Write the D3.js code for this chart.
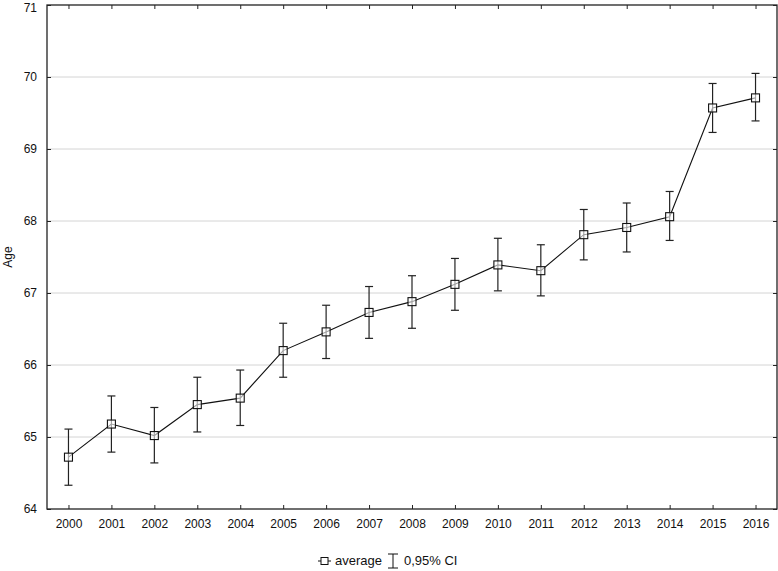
<!DOCTYPE html>
<html><head><meta charset="utf-8">
<script src="https://cdn.jsdelivr.net/npm/d3@7"></script>
<style>body{margin:0;background:#fff}svg{display:block;font-family:"Liberation Sans",Arial,sans-serif}</style>
</head><body><svg id="c" width="778" height="571"></svg>
<script>
const years = ["2000","2001","2002","2003","2004","2005","2006","2007","2008","2009","2010","2011","2012","2013","2014","2015","2016"];
const average = [64.72,65.18,65.02,65.45,65.54,66.20,66.46,66.73,66.88,67.12,67.39,67.31,67.81,67.91,68.06,69.57,69.71];
const ciLow  = [64.33,64.79,64.64,65.07,65.16,65.83,66.09,66.37,66.51,66.76,67.03,66.96,67.46,67.57,67.73,69.23,69.39];
const ciHigh = [65.11,65.57,65.41,65.83,65.93,66.58,66.83,67.09,67.24,67.48,67.76,67.67,68.16,68.25,68.41,69.91,70.05];
const yTicks = [64,65,66,67,68,69,70,71];

const svg = d3.select("#c");
const L=47, R=777, T=5, B=509;
const x = d3.scalePoint().domain(years).range([L,R]).padding(0.5);
const y = d3.scaleLinear().domain([64,71]).range([B,T]);
const FONT = "Liberation Sans, Arial, sans-serif";

svg.append("g").selectAll("line").data(yTicks.slice(1,-1)).join("line")
  .attr("x1",L).attr("x2",R).attr("y1",d=>y(d)).attr("y2",d=>y(d))
  .attr("stroke","#d4d4d4").attr("stroke-width",1);

const ax = (g)=>g.selectAll(".domain").remove();
svg.append("g").attr("transform",`translate(0,${B})`)
  .call(d3.axisBottom(x).tickSize(-4).tickPadding(10)).call(ax)
  .call(g=>g.selectAll("text").attr("font-size",12).attr("fill","#111").attr("font-family",FONT))
  .call(g=>g.selectAll("line").attr("stroke","#222"));
svg.append("g").attr("transform",`translate(0,${T})`)
  .call(d3.axisTop(x).tickSize(-4).tickFormat("")).call(ax)
  .call(g=>g.selectAll("line").attr("stroke","#222"));
svg.append("g").attr("transform",`translate(${L},0)`)
  .call(d3.axisLeft(y).tickValues(yTicks).tickFormat(d3.format("d")).tickSize(-4).tickPadding(10)).call(ax)
  .call(g=>g.selectAll("text").attr("font-size",12).attr("fill","#111").attr("font-family",FONT)
        .attr("dy",d=>d===71?"0.5em":"0.32em"))
  .call(g=>g.selectAll("line").attr("stroke","#222"));
svg.append("g").attr("transform",`translate(${R},0)`)
  .call(d3.axisRight(y).tickValues(yTicks).tickSize(-4).tickFormat("")).call(ax)
  .call(g=>g.selectAll("line").attr("stroke","#222"));

svg.append("rect").attr("x",L).attr("y",T).attr("width",R-L).attr("height",B-T)
  .attr("fill","none").attr("stroke","#222").attr("stroke-width",1.3);

svg.append("text").attr("transform",`translate(12,${(T+B)/2}) rotate(-90)`)
  .attr("text-anchor","middle").attr("font-size",12).attr("fill","#111").text("Age");

const eb = svg.append("g").attr("stroke","#222").attr("stroke-width",1.2);
years.forEach((yr,i)=>{
  const cx=x(yr);
  eb.append("line").attr("x1",cx).attr("x2",cx).attr("y1",y(ciLow[i])).attr("y2",y(ciHigh[i]));
  eb.append("line").attr("x1",cx-4).attr("x2",cx+4).attr("y1",y(ciLow[i])).attr("y2",y(ciLow[i]));
  eb.append("line").attr("x1",cx-4).attr("x2",cx+4).attr("y1",y(ciHigh[i])).attr("y2",y(ciHigh[i]));
});

svg.append("path").datum(average)
  .attr("d",d3.line().x((d,i)=>x(years[i])).y(d=>y(d)))
  .attr("fill","none").attr("stroke","#111").attr("stroke-width",1.1);

svg.append("g").selectAll("rect").data(average).join("rect")
  .attr("x",(d,i)=>x(years[i])-4).attr("y",d=>y(d)-4).attr("width",8).attr("height",8)
  .attr("fill","#fff").attr("fill-opacity",0.6).attr("stroke","#111").attr("stroke-width",1.1);

const lg = svg.append("g");
const ly = 561;
lg.append("line").attr("x1",318).attr("x2",331).attr("y1",ly).attr("y2",ly).attr("stroke","#111");
lg.append("rect").attr("x",321).attr("y",ly-3.5).attr("width",7).attr("height",7).attr("fill","#fff").attr("stroke","#111");
lg.append("text").attr("x",335).attr("y",ly+4).attr("font-size",13).attr("fill","#111").text("average");
lg.append("line").attr("x1",393).attr("x2",393).attr("y1",ly-7).attr("y2",ly+7).attr("stroke","#111");
lg.append("line").attr("x1",388).attr("x2",398).attr("y1",ly-7).attr("y2",ly-7).attr("stroke","#111");
lg.append("line").attr("x1",388).attr("x2",398).attr("y1",ly+7).attr("y2",ly+7).attr("stroke","#111");
lg.append("text").attr("x",404).attr("y",ly+4).attr("font-size",13).attr("fill","#111").text("0,95% CI");
</script></body></html>
